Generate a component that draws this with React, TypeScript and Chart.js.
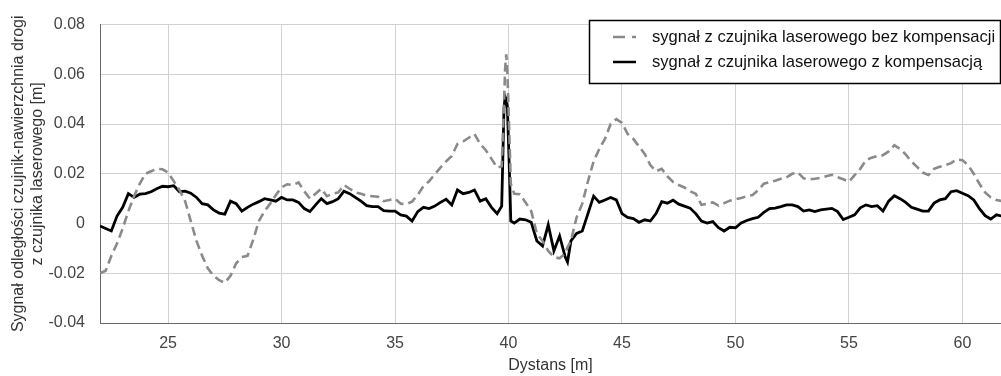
import React, { useEffect, useRef } from "react";
import { Chart, registerables } from "chart.js";

Chart.register(...registerables);

const DISTANCE = [
  22.0, 22.25, 22.5, 22.75, 23.0, 23.25, 23.5, 23.75, 24.0, 24.25, 24.5, 24.75,
  25.0, 25.25, 25.5, 25.75, 26.0, 26.25, 26.5, 26.75, 27.0, 27.25, 27.5, 27.75,
  28.0, 28.25, 28.5, 28.75, 29.0, 29.25, 29.5, 29.75, 30.0, 30.25, 30.5, 30.75,
  31.0, 31.25, 31.5, 31.75, 32.0, 32.25, 32.5, 32.75, 33.0, 33.25, 33.5, 33.75,
  34.0, 34.25, 34.5, 34.75, 35.0, 35.25, 35.5, 35.75, 36.0, 36.25, 36.5, 36.75,
  37.0, 37.25, 37.5, 37.75, 38.0, 38.25, 38.5, 38.75, 39.0, 39.25, 39.5, 39.7,
  39.8, 39.85, 39.9, 39.95, 40.05, 40.1, 40.25, 40.5, 40.75, 41.0, 41.25, 41.5,
  41.75, 42.0, 42.25, 42.5, 42.6, 42.75, 43.0, 43.25, 43.5, 43.75, 44.0, 44.25,
  44.5, 44.75, 45.0, 45.25, 45.5, 45.75, 46.0, 46.25, 46.5, 46.75, 47.0, 47.25,
  47.5, 47.75, 48.0, 48.25, 48.5, 48.75, 49.0, 49.25, 49.5, 49.75, 50.0, 50.25,
  50.5, 50.75, 51.0, 51.25, 51.5, 51.75, 52.0, 52.25, 52.5, 52.75, 53.0, 53.25,
  53.5, 53.75, 54.0, 54.25, 54.5, 54.75, 55.0, 55.25, 55.5, 55.75, 56.0, 56.25,
  56.5, 56.75, 57.0, 57.25, 57.5, 57.75, 58.0, 58.25, 58.5, 58.75, 59.0, 59.25,
  59.5, 59.75, 60.0, 60.25, 60.5, 60.75, 61.0, 61.25, 61.5, 61.75,
];

// signal without compensation (grey dashed)
const WITHOUT_COMP = [
  -0.02, -0.019, -0.013, -0.008, -0.002, 0.005, 0.011, 0.016, 0.02, 0.021, 0.022, 0.0218,
  0.0205, 0.017, 0.0135, 0.009, 0.001, -0.007, -0.013, -0.018, -0.021, -0.0228, -0.0238, -0.021,
  -0.016, -0.0135, -0.013, -0.0065, 0.001, 0.005, 0.008, 0.0115, 0.0145, 0.0158, 0.0155, 0.0165,
  0.013, 0.01, 0.012, 0.014, 0.011, 0.012, 0.0125, 0.0155, 0.014, 0.0125, 0.012, 0.0112,
  0.011, 0.0108, 0.009, 0.0095, 0.01, 0.008, 0.0078, 0.0088, 0.0115, 0.015, 0.017, 0.0198,
  0.0225, 0.025, 0.0272, 0.032, 0.033, 0.0345, 0.036, 0.032, 0.0295, 0.026, 0.0225, 0.023,
  0.048, 0.062, 0.068, 0.061, 0.032, 0.016, 0.012, 0.0118, 0.0085, 0.005, -0.004, -0.007,
  -0.011, -0.0135, -0.014, -0.012, -0.0095, -0.007, 0.0025, 0.008, 0.017, 0.025, 0.03, 0.034,
  0.04, 0.042, 0.0405, 0.036, 0.034, 0.031, 0.028, 0.0235, 0.021, 0.022, 0.019, 0.0167,
  0.0155, 0.0145, 0.013, 0.012, 0.0075, 0.008, 0.0085, 0.0072, 0.0082, 0.0092, 0.0098, 0.0103,
  0.011, 0.0115, 0.0134, 0.016, 0.0167, 0.0172, 0.018, 0.0186, 0.02, 0.0206, 0.0182, 0.0178,
  0.018, 0.0184, 0.019, 0.0196, 0.0186, 0.0178, 0.0168, 0.0195, 0.022, 0.0255, 0.0265, 0.0272,
  0.0275, 0.029, 0.0315, 0.03, 0.0278, 0.025, 0.0228, 0.0205, 0.0195, 0.022, 0.0228, 0.0235,
  0.0243, 0.0258, 0.0255, 0.0235, 0.02, 0.016, 0.0125, 0.0105, 0.0095, 0.009,
];

// signal with compensation (black solid)
const WITH_COMP = [
  -0.001, -0.002, -0.003, 0.003, 0.0065, 0.012, 0.0105, 0.0118, 0.012, 0.0128, 0.014, 0.015,
  0.0148, 0.0152, 0.0128, 0.013, 0.0122, 0.0105, 0.008, 0.0075, 0.0055, 0.0042, 0.0038, 0.009,
  0.008, 0.005, 0.0065, 0.0078, 0.0088, 0.01, 0.0095, 0.009, 0.0105, 0.0095, 0.0095, 0.0085,
  0.006, 0.0048, 0.0075, 0.01, 0.008, 0.0088, 0.01, 0.013, 0.012, 0.0105, 0.009, 0.0072,
  0.0068, 0.0068, 0.0052, 0.005, 0.005, 0.0035, 0.003, 0.001, 0.0048, 0.0065, 0.006, 0.007,
  0.0085, 0.0098, 0.0075, 0.0135, 0.012, 0.0125, 0.0135, 0.009, 0.01, 0.0065, 0.004, 0.007,
  0.046, 0.051, 0.05, 0.047, 0.018, 0.001, 0.0002, 0.0018, 0.0015, 0.0005, -0.007, -0.009,
  -0.0005, -0.011, -0.005, -0.0135, -0.0155, -0.007, -0.004, -0.003, 0.004, 0.011, 0.0085, 0.0095,
  0.0105, 0.0095, 0.004, 0.0025, 0.002, 0.0005, 0.0015, 0.001, 0.004, 0.0088, 0.0082, 0.0094,
  0.0078, 0.007, 0.0062, 0.004, 0.001, 0.0002, 0.0008, -0.0017, -0.003, -0.0015, -0.0017, 0.0002,
  0.0012, 0.002, 0.0025, 0.0045, 0.006, 0.0062, 0.0068, 0.0075, 0.0075, 0.0068, 0.005, 0.0055,
  0.0048, 0.0055, 0.0058, 0.0061, 0.0048, 0.0016, 0.0025, 0.0035, 0.0063, 0.0075, 0.0068, 0.0072,
  0.005, 0.009, 0.0112, 0.01, 0.0085, 0.0065, 0.0058, 0.005, 0.005, 0.0082, 0.0095, 0.01,
  0.0128, 0.0132, 0.0122, 0.0112, 0.0095, 0.006, 0.0032, 0.0018, 0.0035, 0.003,
];

const X_TICKS = [25, 30, 35, 40, 45, 50, 55, 60];
const Y_TICKS = [-0.04, -0.02, 0, 0.02, 0.04, 0.06, 0.08];
const Y_TICK_LABELS = ["-0.04", "-0.02", "0", "0.02", "0.04", "0.06", "0.08"];

const LEGEND_LABELS = [
  "sygnał z czujnika laserowego bez kompensacji",
  "sygnał z czujnika laserowego z kompensacją",
];
const X_TITLE = "Dystans [m]";
const Y_TITLE = ["Sygnał odległości czujnik-nawierzchnia drogi", "z czujnika laserowego [m]"];

const FONT = "'Liberation Sans', Arial, Helvetica, sans-serif";
const GREY = "#8a8a8a";

const legendPlugin = {
  id: "boxLegend",
  afterDraw(chart: any) {
    const ctx = chart.ctx;
    ctx.save();
    const x0 = 589.5;
    const y0 = 20.5;
    const w = 411;
    const h = 63;
    ctx.fillStyle = "#ffffff";
    ctx.fillRect(x0, y0, w, h);
    ctx.strokeStyle = "#000000";
    ctx.lineWidth = 1.5;
    ctx.strokeRect(x0, y0, w, h);
    const rows = [37, 62];
    ctx.lineWidth = 2.5;
    ctx.strokeStyle = GREY;
    ctx.setLineDash([12, 7]);
    ctx.beginPath();
    ctx.moveTo(613, rows[0]);
    ctx.lineTo(636, rows[0]);
    ctx.stroke();
    ctx.setLineDash([]);
    ctx.strokeStyle = "#000000";
    ctx.beginPath();
    ctx.moveTo(613, rows[1]);
    ctx.lineTo(636, rows[1]);
    ctx.stroke();
    ctx.fillStyle = "#111111";
    ctx.font = `16.6px ${FONT}`;
    ctx.textBaseline = "middle";
    ctx.textAlign = "left";
    ctx.fillText(LEGEND_LABELS[0], 652, rows[0]);
    ctx.fillText(LEGEND_LABELS[1], 652, rows[1]);
    ctx.restore();
  },
};

export default function App() {
  const canvasRef = useRef<HTMLCanvasElement | null>(null);

  useEffect(() => {
    document.body.style.margin = "0";
    const canvas = canvasRef.current;
    if (!canvas) return;
    const chart = new Chart(canvas, {
      type: "line",
      data: {
        datasets: [
          {
            label: LEGEND_LABELS[0],
            data: DISTANCE.map((x, i) => ({ x, y: WITHOUT_COMP[i] })),
            borderColor: GREY,
            borderWidth: 2.6,
            borderDash: [9, 5],
            pointRadius: 0,
            tension: 0,
          },
          {
            label: LEGEND_LABELS[1],
            data: DISTANCE.map((x, i) => ({ x, y: WITH_COMP[i] })),
            borderColor: "#000000",
            borderWidth: 2.8,
            pointRadius: 0,
            tension: 0,
          },
        ],
      },
      options: {
        animation: false,
        responsive: true,
        maintainAspectRatio: false,
        layout: { padding: { top: 18, left: 0, right: 0, bottom: 0 } },
        plugins: {
          legend: { display: false },
          tooltip: { enabled: false },
        },
        scales: {
          x: {
            type: "linear",
            min: 22,
            max: 61.7,
            afterBuildTicks: (scale: any) => {
              scale.ticks = X_TICKS.map((v) => ({ value: v }));
            },
            afterFit: (scale: any) => {
              scale.height = 53;
            },
            grid: { color: "#d2d2d2", lineWidth: 1, drawTicks: false },
            border: { color: "#6a6a6a", width: 1 },
            ticks: {
              color: "#444444",
              font: { family: FONT, size: 16 },
              padding: 11,
              maxRotation: 0,
              autoSkip: false,
            },
            title: {
              display: true,
              text: X_TITLE,
              color: "#333333",
              font: { family: FONT, size: 16 },
              padding: { top: 0, bottom: 1 },
            },
          },
          y: {
            type: "linear",
            min: -0.04,
            max: 0.08,
            afterBuildTicks: (scale: any) => {
              scale.ticks = Y_TICKS.map((v) => ({ value: v }));
            },
            afterFit: (scale: any) => {
              scale.width = 100;
            },
            grid: { color: "#d2d2d2", lineWidth: 1, drawTicks: false },
            border: { color: "#6a6a6a", width: 1 },
            ticks: {
              color: "#444444",
              font: { family: FONT, size: 16 },
              padding: 15,
              autoSkip: false,
              callback: (value: any) => {
                const idx = Y_TICKS.findIndex((t) => Math.abs(t - Number(value)) < 1e-9);
                return idx >= 0 ? Y_TICK_LABELS[idx] : "";
              },
            },
            title: {
              display: true,
              text: Y_TITLE,
              color: "#333333",
              font: { family: FONT, size: 16 },
              padding: { top: 9, bottom: 0 },
            },
          },
        },
      },
      plugins: [legendPlugin],
    });
    return () => chart.destroy();
  }, []);

  return (
    <div style={{ width: 1001, height: 376, position: "relative" }}>
      <canvas ref={canvasRef} />
    </div>
  );
}
